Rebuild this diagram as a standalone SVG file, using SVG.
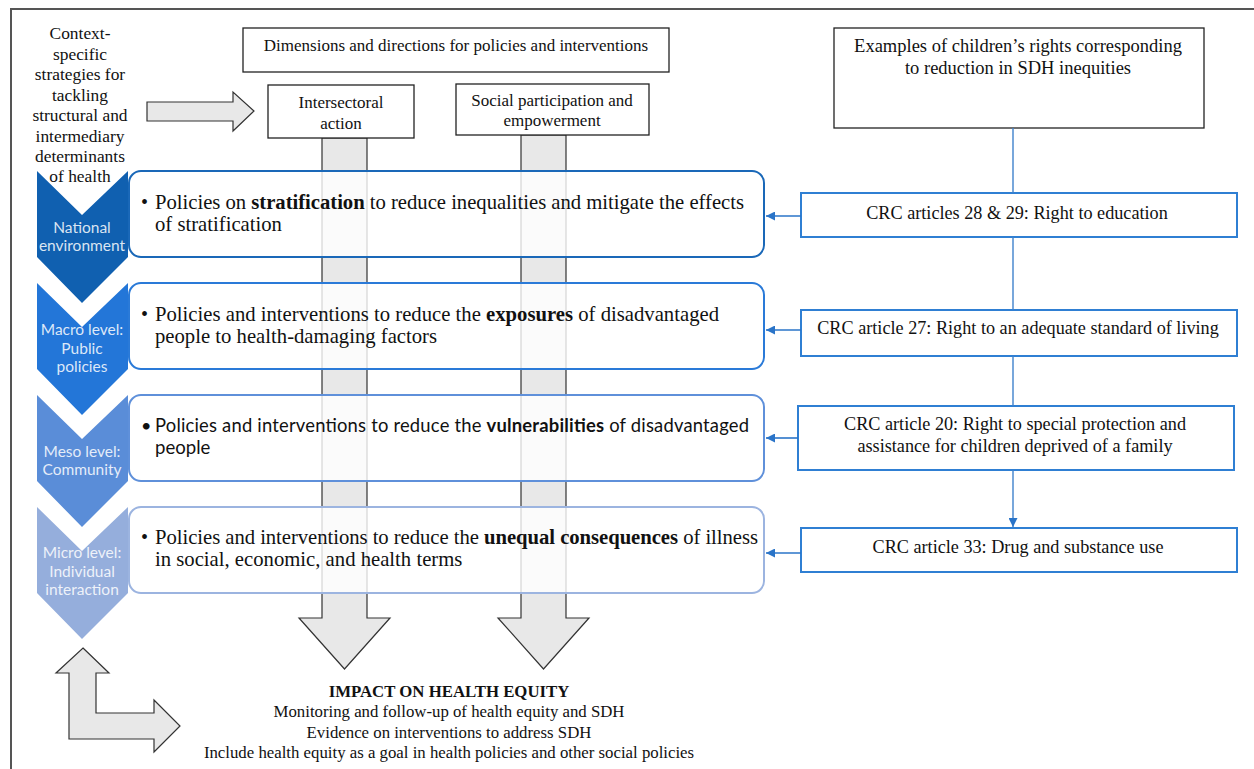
<svg xmlns="http://www.w3.org/2000/svg" width="1254" height="769" viewBox="0 0 1254 769">
<defs>
<style>
.serif{font-family:"Liberation Serif","Times New Roman",serif;fill:#111}
.sans{font-family:Lato,"Liberation Sans",sans-serif}
.gray{fill:#e8e8e8;stroke:#333;stroke-width:1.2}
.plain{fill:#fff;stroke:#222;stroke-width:1.3}
.crc{fill:#fff;stroke:#2f7fd3;stroke-width:2}
.chv{font-family:Lato,"Liberation Sans",sans-serif;font-size:15.5px;fill:#fff;fill-opacity:0.85;text-anchor:middle}
.pol{fill:#fff;fill-opacity:0.8;stroke-width:2}
.conn{stroke:#3f82cc;stroke-width:1.4;fill:none}
</style>
<marker id="ah" viewBox="0 0 10 10" refX="10" refY="5" markerWidth="10" markerHeight="9" markerUnits="userSpaceOnUse" orient="auto">
<path d="M0,0 L10,5 L0,10 Z" fill="#2a74c8"/>
</marker>
</defs>
<rect width="1254" height="769" fill="#fff"/>
<path d="M11,769 L11,9 L1254,9" fill="none" stroke="#555" stroke-width="2"/>

<g id="gray-arrows">
<path class="gray" d="M322,138 L322,618 L299,618 L344.5,669 L390,618 L367,618 L367,138 Z"/>
<path class="gray" d="M521,135 L521,618 L498,618 L543.5,669 L589,618 L566,618 L566,135 Z"/>
<path class="gray" d="M147,102 L233,102 L233,92 L254,111 L233,131 L233,121 L147,121 Z"/>
<path class="gray" d="M83,648 L109,673 L96,673 L96,713 L154,713 L154,700 L180,726 L154,752 L154,739 L69,739 L69,673 L56,673 Z"/>
</g>

<g id="context-text" class="serif" font-size="17.4" text-anchor="middle">
<text x="80" y="39">Context-</text>
<text x="80" y="59.5">specific</text>
<text x="80" y="80">strategies for</text>
<text x="80" y="100.5">tackling</text>
<text x="80" y="121">structural and</text>
<text x="80" y="141.5">intermediary</text>
<text x="80" y="162">determinants</text>
</g>

<g id="dimensions">
<rect class="plain" x="243" y="28" width="426" height="44"/>
<text class="serif" x="456" y="51" font-size="17" text-anchor="middle">Dimensions and directions for policies and interventions</text>
</g>
<g id="intersectoral">
<rect class="plain" x="268" y="85" width="146" height="53"/>
<text class="serif" x="341" y="108" font-size="17" text-anchor="middle">Intersectoral</text>
<text class="serif" x="341" y="129" font-size="17" text-anchor="middle">action</text>
</g>
<g id="social">
<rect class="plain" x="456" y="84" width="193" height="51"/>
<text class="serif" x="552" y="106" font-size="17" text-anchor="middle">Social participation and</text>
<text class="serif" x="552" y="126" font-size="17" text-anchor="middle">empowerment</text>
</g>
<g id="examples">
<rect class="plain" x="834" y="28" width="370" height="100"/>
<text class="serif" x="1018" y="52" font-size="18.5" text-anchor="middle">Examples of children’s rights corresponding</text>
<text class="serif" x="1018" y="74" font-size="18.5" text-anchor="middle">to reduction in SDH inequities</text>
</g>

<g id="chevron-national">
<path d="M37,171 L82,215 L128,171 L128,257 L82,303 L37,257 Z" fill="#1060b0"/>
<text class="chv" x="82" y="233">National</text>
<text class="chv" x="82" y="251">environment</text>
</g>
<text class="serif" x="80" y="182" font-size="17.4" text-anchor="middle">of health</text>
<g id="chevron-macro">
<path d="M37,283 L82,327 L128,283 L128,369 L82,415 L37,369 Z" fill="#2376d8"/>
<text class="chv" x="82" y="335">Macro level:</text>
<text class="chv" x="82" y="354">Public</text>
<text class="chv" x="82" y="372">policies</text>
</g>
<g id="chevron-meso">
<path d="M37,395 L82,439 L128,395 L128,481 L82,527 L37,481 Z" fill="#5a8dd8"/>
<text class="chv" x="82" y="457">Meso level:</text>
<text class="chv" x="82" y="475">Community</text>
</g>
<g id="chevron-micro">
<path d="M37,507 L82,551 L128,507 L128,593 L82,639 L37,593 Z" fill="#95aedc"/>
<text class="chv" x="82" y="558">Micro level:</text>
<text class="chv" x="82" y="577">Individual</text>
<text class="chv" x="82" y="595">interaction</text>
</g>

<g id="policy-stratification">
<rect class="pol" x="129" y="171" width="635" height="86" rx="12" stroke="#1a68b8"/>
<text class="serif" x="141" y="209" font-size="20">•</text>
<text class="serif" x="155" y="209" font-size="20.7" textLength="589" lengthAdjust="spacing">Policies on <tspan font-weight="bold">stratification</tspan> to reduce inequalities and mitigate the effects</text>
<text class="serif" x="155" y="231" font-size="20.7">of stratification</text>
</g>
<g id="policy-exposures">
<rect class="pol" x="129" y="283" width="635" height="86" rx="12" stroke="#2a7ad8"/>
<text class="serif" x="141" y="321" font-size="20">•</text>
<text class="serif" x="155" y="321" font-size="20.7" textLength="564" lengthAdjust="spacing">Policies and interventions to reduce the <tspan font-weight="bold">exposures</tspan> of disadvantaged</text>
<text class="serif" x="155" y="343" font-size="20.7">people to health-damaging factors</text>
</g>
<g id="policy-vulnerabilities">
<rect class="pol" x="129" y="395" width="635" height="86" rx="12" stroke="#5f90da"/>
<text class="sans" x="141" y="432" font-size="18" fill="#111">•</text>
<text class="sans" x="155" y="432" font-size="18.4" fill="#111" textLength="594" lengthAdjust="spacing">Policies and interventions to reduce the <tspan font-weight="bold">vulnerabilities</tspan> of disadvantaged</text>
<text class="sans" x="155" y="454" font-size="18.6" fill="#111">people</text>
</g>
<g id="policy-consequences">
<rect class="pol" x="129" y="507" width="635" height="86" rx="12" stroke="#9cb4e0"/>
<text class="serif" x="141" y="544" font-size="20">•</text>
<text class="serif" x="155" y="544" font-size="20.7" textLength="603" lengthAdjust="spacing">Policies and interventions to reduce the <tspan font-weight="bold">unequal consequences</tspan> of illness</text>
<text class="serif" x="155" y="566" font-size="20.7">in social, economic, and health terms</text>
</g>

<g id="crc-28-29">
<rect class="crc" x="801" y="193" width="436" height="44"/>
<text class="serif" x="1017" y="219" font-size="18.2" text-anchor="middle">CRC articles 28 &amp; 29: Right to education</text>
</g>
<g id="crc-27">
<rect class="crc" x="801" y="310" width="436" height="46"/>
<text class="serif" x="1018" y="334" font-size="18.2" text-anchor="middle">CRC article 27: Right to an adequate standard of living</text>
</g>
<g id="crc-20">
<rect class="crc" x="798" y="406" width="436" height="64"/>
<text class="serif" x="1015" y="430" font-size="18.2" text-anchor="middle">CRC article 20: Right to special protection and</text>
<text class="serif" x="1015" y="452" font-size="18.2" text-anchor="middle">assistance for children deprived of a family</text>
</g>
<g id="crc-33">
<rect class="crc" x="801" y="528" width="436" height="44"/>
<text class="serif" x="1018" y="553" font-size="18.2" text-anchor="middle">CRC article 33: Drug and substance use</text>
</g>

<g id="connectors">
<line class="conn" x1="1013" y1="128" x2="1013" y2="193"/>
<line class="conn" x1="1013" y1="237" x2="1013" y2="310"/>
<line class="conn" x1="1013" y1="356" x2="1013" y2="406"/>
<line class="conn" x1="1013" y1="470" x2="1013" y2="527" marker-end="url(#ah)"/>
<line x1="801" y1="216" x2="766" y2="216" stroke="#2a74c8" stroke-width="1.6" marker-end="url(#ah)"/>
<line x1="801" y1="330" x2="766" y2="330" stroke="#2a74c8" stroke-width="1.6" marker-end="url(#ah)"/>
<line x1="798" y1="438" x2="766" y2="438" stroke="#2a74c8" stroke-width="1.6" marker-end="url(#ah)"/>
<line x1="801" y1="553" x2="766" y2="553" stroke="#2a74c8" stroke-width="1.6" marker-end="url(#ah)"/>
</g>

<g id="impact" class="serif" font-size="16.8" text-anchor="middle">
<text x="449" y="697" font-weight="bold">IMPACT ON HEALTH EQUITY</text>
<text x="449" y="717">Monitoring and follow-up of health equity and SDH</text>
<text x="449" y="738">Evidence on interventions to address SDH</text>
<text x="449" y="758">Include health equity as a goal in health policies and other social policies</text>
</g>
</svg>
